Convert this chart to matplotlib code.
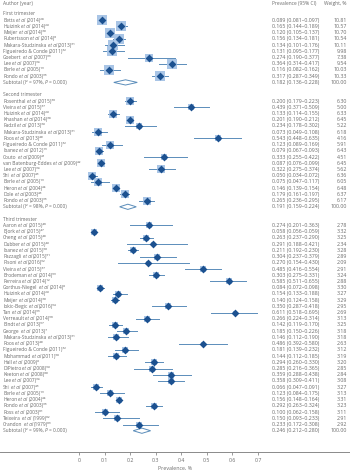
import matplotlib
matplotlib.use("Agg")
import matplotlib.pyplot as plt

plt.rcParams["font.family"] = ["Open Sans", "DejaVu Sans"]

# first trimester
first_names = ["Betts et al", "Huizink et al", "Meijer et al", "Rubertsson et al",
               "Makara-Studzinska et al", "Figueiredo & Conde", "Goebert et al",
               "Lee et al", "Berle et al", "Rondo et al"]
first_years = [2014, 2014, 2014, 2014, 2013, 2011, 2007, 2007, 2005, 2003]
first_refs = [28, 29, 30, 6, 31, 32, 33, 34, 13, 35]
first_est = [0.089, 0.165, 0.120, 0.156, 0.134, 0.131, 0.274, 0.364, 0.116, 0.317]
first_lo = [0.081, 0.144, 0.105, 0.134, 0.101, 0.095, 0.190, 0.314, 0.082, 0.287]
first_hi = [0.097, 0.189, 0.137, 0.181, 0.176, 0.177, 0.377, 0.417, 0.162, 0.349]
first_w = [10.81, 10.57, 10.70, 10.54, 10.11, 9.98, 7.38, 9.54, 10.03, 10.33]
first_sub = [0.182, 0.136, 0.228]
first_i2 = 97

# second trimester
second_names = ["Rosenthal et al", "Vieira et al", "Huizink et al", "Khashan et al",
                "Fadzil et al", "Makara-Studzinska et al", "Roos et al",
                "Figueiredo & Conde", "Ibanez et al", "Couto et al",
                "van Batenburg-Eddes et al", "Lee et al", "Shi et al", "Berle et al",
                "Heron et al", "Dole et al", "Rondo et al"]
second_years = [2015, 2015, 2014, 2014, 2013, 2013, 2013, 2011, 2012, 2009, 2009,
                2007, 2007, 2005, 2004, 2003, 2003]
second_refs = [36, 37, 29, 38, 39, 31, 40, 32, 15, 41, 42, 34, 43, 13, 44, 45, 35]
second_est = [0.200, 0.439, 0.133, 0.201, 0.234, 0.073, 0.543, 0.123, 0.079, 0.333,
              0.087, 0.322, 0.050, 0.075, 0.146, 0.179, 0.265]
second_lo = [0.179, 0.371, 0.114, 0.190, 0.178, 0.049, 0.448, 0.089, 0.067, 0.255,
             0.076, 0.275, 0.034, 0.047, 0.139, 0.161, 0.236]
second_hi = [0.223, 0.509, 0.155, 0.212, 0.302, 0.108, 0.635, 0.169, 0.093, 0.422,
             0.099, 0.374, 0.072, 0.117, 0.154, 0.197, 0.295]
second_w = [6.30, 5.00, 6.33, 6.45, 5.22, 6.18, 4.16, 5.91, 6.43, 4.51, 6.45, 5.62,
            6.36, 6.05, 6.48, 6.37, 6.17]
second_sub = [0.191, 0.159, 0.224]
second_i2 = 98

# third trimester
third_names = ["Aaron et al", "Bjork et al", "Cheng et al", "Dubber et al",
               "Ibanez et al", "Pazzagli et al", "Pisoni et al", "Vieira et al",
               "Brodeman et al", "Ferreira et al", "Gorthus-Niegel et al",
               "Huizink et al", "Meijer et al", "Iokic-Begic et al", "Tan et al",
               "Verreault et al", "Bindt et al", "George et al",
               "Makara-Studzinska et al", "Roos et al", "Figueiredo & Conde",
               "Mohammad et al", "Hall et al", "DiPietro et al", "Keeton et al",
               "Lee et al", "Shi et al", "Berle et al", "Heron et al", "Rondo et al",
               "Ross et al", "Teixeira et al", "Crandon et al"]
third_years = [2015, 2015, 2015, 2015, 2015, 2015, 2016, 2015, 2014, 2014, 2014,
               2014, 2014, 2016, 2014, 2014, 2013, 2013, 2013, 2013, 2011, 2011,
               2009, 2008, 2008, 2007, 2007, 2005, 2004, 2003, 2003, 1999, 1979]
third_refs = [46, 47, 48, 49, 50, 51, 52, 37, 53, 12, 8, 29, 30, 54, 55, 56, 57, 7,
              31, 40, 32, 58, 9, 59, 60, 34, 43, 13, 44, 35, 61, 62, 63]
third_est = [0.274, 0.058, 0.263, 0.291, 0.211, 0.304, 0.270, 0.485, 0.303, 0.585,
             0.084, 0.154, 0.140, 0.350, 0.611, 0.266, 0.142, 0.185, 0.146, 0.486,
             0.181, 0.144, 0.294, 0.285, 0.359, 0.358, 0.066, 0.123, 0.156, 0.292,
             0.100, 0.150, 0.233]
third_lo = [0.201, 0.056, 0.237, 0.188, 0.192, 0.237, 0.154, 0.416, 0.275, 0.511,
            0.072, 0.133, 0.124, 0.287, 0.518, 0.224, 0.119, 0.150, 0.112, 0.392,
            0.139, 0.112, 0.260, 0.216, 0.288, 0.309, 0.047, 0.084, 0.148, 0.263,
            0.062, 0.093, 0.172]
third_hi = [0.363, 0.059, 0.290, 0.421, 0.230, 0.379, 0.430, 0.554, 0.331, 0.655,
            0.098, 0.188, 0.158, 0.418, 0.695, 0.314, 0.170, 0.226, 0.190, 0.580,
            0.232, 0.185, 0.330, 0.365, 0.438, 0.411, 0.091, 0.175, 0.164, 0.324,
            0.158, 0.233, 0.308]
third_w = [2.78, 3.32, 3.25, 2.34, 3.28, 2.89, 2.09, 2.91, 3.24, 2.88, 3.30, 3.27,
           3.29, 2.95, 2.69, 3.13, 3.25, 3.18, 3.18, 2.63, 3.12, 3.19, 3.20, 2.85,
           2.84, 3.08, 3.27, 3.13, 3.31, 3.23, 3.11, 2.91, 2.92]
third_sub = [0.246, 0.212, 0.280]
third_i2 = 99

x_ticks = [0, 0.1, 0.2, 0.3, 0.4, 0.5, 0.6, 0.7]

groups = [
    ("First trimester", first_names, first_years, first_refs, first_est, first_lo,
     first_hi, first_w, first_sub, first_i2),
    ("Second trimester", second_names, second_years, second_refs, second_est,
     second_lo, second_hi, second_w, second_sub, second_i2),
    ("Third trimester", third_names, third_years, third_refs, third_est, third_lo,
     third_hi, third_w, third_sub, third_i2),
]

txt_col = "#6a6a6a"
ci_col = "#5b8dba"
sq_col = "#a9c5e6"
dot_col = "#1c5190"
fs = 3.5      # names
fs_num = 3.8  # numeric columns
gap = 0.9     # word space, points

SUP = str.maketrans("0123456789", "\u2070\u00b9\u00b2\u00b3\u2074\u2075\u2076\u2077\u2078\u2079")

fig = plt.figure(figsize=(3.5, 4.7), dpi=100)
ax = fig.add_axes([0, 18 / 470, 1, 452 / 470])
ax.set_xlim(-79 / 255.7, (350 - 79) / 255.7)
ax.set_ylim(72.42, -0.25)

x_name, x_prev, x_wt = 3 / 350, 272 / 350, 347 / 350
tr = ax.get_yaxis_transform()


def put(xf, row, s, ha="left", size=fs):
    return ax.text(xf, row, s, transform=tr, ha=ha, va="center", fontsize=size,
                   color=txt_col)


def after(prev, s, italic=False):
    # next word placed just right of the previous text piece
    return ax.annotate(s, xy=(1, 0), xycoords=prev, xytext=(gap, 0),
                       textcoords="offset points", ha="left", va="bottom",
                       fontsize=fs, color=txt_col,
                       style="italic" if italic else "normal")


def author_label(row, name, yr, rf):
    tail = f"({yr}){str(rf).translate(SUP)}"
    if name.endswith(" et al"):
        t = put(x_name, row, name[:-6])
        t = after(t, "et al", italic=True)
        after(t, tail)
    else:
        t = put(x_name, row, name)
        after(t, tail)


put(x_name, 0.3, "Author (year)")
put(x_prev, 0.3, "Prevalence (95% CI)")
put(x_wt, 0.3, "Weight, %", ha="right")

row = 2
for title, names, years, refs, est, lo, hi, w, sub, i2 in groups:
    put(x_name, row, title)
    row += 1
    for n, yr, rf, e, l, h, wt in zip(names, years, refs, est, lo, hi, w):
        author_label(row, n, yr, rf)
        put(x_prev, row, f"{e:.3f} ({l:.3f}\u2013{h:.3f})", size=fs_num)
        put(x_wt, row, f"{wt:.2f}", ha="right", size=fs_num)
        ax.plot([l, h], [row, row], color=ci_col, lw=0.7, zorder=1)
        side = 3.0 * wt ** 0.5 * 0.72
        ax.scatter([e], [row], marker="s", s=side ** 2, color=sq_col, lw=0, zorder=2)
        ax.scatter([e], [row], marker="D", s=16, color=dot_col, lw=0, zorder=3)
        row += 1
    e, l, h = sub
    t = put(x_name, row, f"Subtotal (I\u00b2 = {i2}%,")
    t = after(t, "P", italic=True)
    after(t, "= 0.000)")
    put(x_prev, row, f"{e:.3f} ({l:.3f}\u2013{h:.3f})", size=fs_num)
    put(x_wt, row, "100.00", ha="right", size=fs_num)
    ax.fill([l, e, h, e], [row, row - 0.42, row, row + 0.42], facecolor="white",
            edgecolor=ci_col, lw=0.7, zorder=2)
    row += 2

for sp in ["top", "left", "right"]:
    ax.spines[sp].set_visible(False)
ax.spines["bottom"].set_color("#8a8a8a")
ax.spines["bottom"].set_linewidth(0.7)
ax.set_yticks([])
ax.set_xticks(x_ticks)
ax.set_xticklabels([f"{t:g}" for t in x_ticks])
ax.tick_params(axis="x", length=2.2, width=0.6, color="#8a8a8a", pad=2.4,
               labelsize=fs_num, labelcolor=txt_col)
ax.set_xlabel("Prevalence, %", fontsize=fs_num, color=txt_col, labelpad=1.5)

fig.savefig("out.png", dpi=100)
